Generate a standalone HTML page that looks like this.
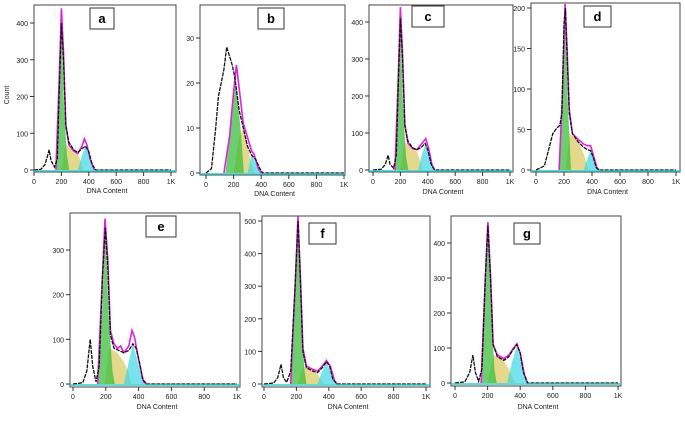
<!DOCTYPE html>
<html><head><meta charset="utf-8"><style>
body{margin:0;background:#fff;width:685px;height:419px;overflow:hidden}
svg text{font-family:"Liberation Sans",sans-serif}
</style></head><body>
<svg id="s" width="685" height="419" viewBox="0 0 685 419"></svg>
<script>
const panelLabels=["a","b","c","d","e","f","g"];
const yTicksA=[0,100,200,300,400];
const yTicksB=[0,10,20,30];
const yTicksC=[0,100,200,300,400];
const yTicksD=[0,50,100,150,200];
const yTicksE=[0,100,200,300];
const yTicksF=[0,100,200,300,400,500];
const yTicksG=[0,100,200,300,400];
const xTicks=[0,200,400,600,800,1000];
const xTickLabels=["0","200","400","600","800","1K"];
// histogram series [DNA, count]
const blackA=[[0,0],[50,2],[80,15],[100,40],[110,55],[125,25],[150,8],[170,30],[185,220],[200,400],[215,300],[232,120],[255,75],[290,55],[320,48],[350,58],[375,65],[400,50],[425,15],[450,0],[1000,0]];
const magA=[[160,0],[183,240],[200,440],[215,320],[232,125],[255,68],[290,52],[320,45],[350,65],[368,85],[385,70],[410,30],[440,0]];
const g1A=[[160,0],[182,170],[200,420],[218,180],[240,40],[258,0]];
const sA=[[200,0],[230,70],[280,55],[320,45],[345,20],[360,0]];
const g2A=[[320,0],[350,40],[375,65],[400,45],[430,10],[450,0]];
const blackB=[[0,0],[40,1],[70,10],[90,17],[110,20],[130,23],[150,28],[170,26],[190,24],[210,21],[240,14],[270,10],[300,6],[330,4],[360,3],[390,1],[410,0],[1000,0]];
const magB=[[130,0],[170,8],[200,18],[220,24],[240,19],[270,11],[300,8],[330,5],[350,4],[380,1],[400,0]];
const g1B=[[140,0],[180,10],[215,21],[250,10],[275,0]];
const sB=[[200,0],[240,8],[270,10],[300,6],[330,2],[350,0]];
const g2B=[[300,0],[330,4],[350,3],[380,1],[400,0]];
const blackC=[[0,0],[60,2],[90,15],[110,40],[125,15],[150,5],[170,40],[185,230],[200,410],[215,300],[232,120],[255,78],[290,60],[320,55],[350,60],[380,72],[400,55],[425,15],[450,0],[1000,0]];
const magC=[[160,0],[183,240],[200,440],[215,320],[232,125],[255,72],[290,58],[320,55],[350,68],[385,85],[405,60],[430,15],[450,0]];
const g1C=[[160,0],[182,170],[200,420],[218,180],[240,40],[258,0]];
const sC=[[200,0],[230,75],[280,60],[320,50],[345,25],[360,0]];
const g2C=[[330,0],[360,45],[385,72],[410,40],[440,5],[450,0]];
const blackD=[[0,0],[60,5],[90,25],[120,45],[150,52],[170,55],[185,70],[200,180],[210,200],[222,140],[238,70],[260,45],[300,35],[340,28],[370,25],[390,24],[410,15],[430,3],[450,0],[1000,0]];
const magD=[[165,0],[188,90],[208,205],[222,150],[238,75],[260,45],[300,38],[340,32],[370,30],[390,30],[410,18],[435,3],[450,0]];
const g1D=[[165,0],[188,80],[208,190],[228,80],[250,0]];
const sD=[[210,0],[240,45],[290,38],[330,25],[360,10],[375,0]];
const g2D=[[340,0],[370,15],[390,25],[410,15],[440,0]];
const blackE=[[0,0],[60,3],[85,30],[105,100],[120,40],[140,5],[160,40],[180,240],[197,350],[212,260],[228,110],[250,80],[280,75],[310,70],[340,75],[365,90],[385,80],[405,50],[425,10],[450,0],[1000,0]];
const magE=[[150,0],[178,230],[195,370],[212,280],[228,120],[250,90],[270,80],[290,85],[310,70],[340,85],[360,120],[375,105],[400,55],[430,5],[450,0]];
const g1E=[[150,0],[177,160],[197,355],[217,160],[240,30],[255,0]];
const sE=[[195,0],[220,80],[270,70],[310,50],[340,25],[355,0]];
const g2E=[[310,0],[340,50],[365,90],[395,50],[425,5],[440,0]];
const blackF=[[0,0],[60,3],[85,20],[105,60],[120,20],[140,5],[165,40],[192,300],[210,500],[225,320],[240,100],[262,50],[300,40],[330,35],[360,50],[385,68],[405,55],[425,15],[450,0],[1000,0]];
const magF=[[165,0],[192,300],[210,515],[225,330],[240,110],[262,55],[300,45],[330,40],[360,55],[385,72],[410,55],[435,10],[450,0]];
const g1F=[[165,0],[190,250],[210,500],[228,250],[248,50],[262,0]];
const sF=[[210,0],[240,55],[290,42],[330,30],[355,10],[365,0]];
const g2F=[[330,0],[360,40],[385,65],[410,40],[440,0]];
const blackG=[[0,0],[60,3],[90,30],[110,80],[125,30],[145,5],[165,40],[186,300],[202,450],[218,300],[234,110],[260,75],[300,65],[330,75],[355,95],[380,110],[400,85],[420,30],[445,0],[1000,0]];
const magG=[[160,0],[186,300],[202,460],[218,310],[234,110],[260,80],[300,70],[330,80],[360,100],[380,112],[400,85],[425,25],[445,0]];
const g1G=[[160,0],[185,250],[202,440],[220,220],[242,40],[255,0]];
const sG=[[200,0],[235,80],[290,70],[330,40],[360,10],[370,0]];
const g2G=[[320,0],[350,60],[380,105],[405,60],[435,5],[445,0]];

const panels=[
 {lab:0,L:34,R:176,T:5,B:172,x0:34,x1:171,y0:170,yt:23,ytv:400,ticks:yTicksA,lbx:90,lbw:24,lby:8,data:[blackA,magA,g1A,sA,g2A],count:true,xlab:193},
 {lab:1,L:200,R:345,T:5,B:175,x0:206,x1:344,y0:173,yt:38,ytv:30,ticks:yTicksB,lbx:258,lbw:26,lby:8,data:[blackB,magB,g1B,sB,g2B],xlab:196},
 {lab:2,L:369,R:513,T:5,B:172,x0:373,x1:510,y0:170,yt:22,ytv:400,ticks:yTicksC,lbx:412,lbw:32,lby:6,data:[blackC,magC,g1C,sC,g2C],xlab:194},
 {lab:3,L:531,R:680,T:3,B:172,x0:536,x1:676,y0:170,yt:8,ytv:200,ticks:yTicksD,lbx:584,lbw:27,lby:6,data:[blackD,magD,g1D,sD,g2D],xlab:194},
 {lab:4,L:70,R:240,T:213,B:387,x0:73,x1:237,y0:384,yt:250,ytv:300,ticks:yTicksE,lbx:146,lbw:30,lby:216,data:[blackE,magE,g1E,sE,g2E],xlab:409},
 {lab:5,L:262,R:430,T:216,B:387,x0:264,x1:426,y0:384,yt:221,ytv:500,ticks:yTicksF,lbx:309,lbw:27,lby:223,data:[blackF,magF,g1F,sF,g2F],xlab:409},
 {lab:6,L:451,R:621,T:216,B:386,x0:455,x1:618,y0:383,yt:243,ytv:400,ticks:yTicksG,lbx:514,lbw:26,lby:223,data:[blackG,magG,g1G,sG,g2G],xlab:409}
];
const s=document.getElementById('s');
const NS="http://www.w3.org/2000/svg";
function mk(t,a,p){const e=document.createElementNS(NS,t);for(const k in a)e.setAttribute(k,a[k]);(p||s).appendChild(e);return e;}
panels.forEach((P,i)=>{
 const g=mk('g',{});
 
 
 const sx=v=>P.x0+(P.x1-P.x0)*v/1000;
 const sy=v=>P.y0-(P.y0-P.yt)*v/P.ytv;
 const pts=a=>a.map(p=>sx(p[0]).toFixed(1)+','+sy(p[1]).toFixed(1)).join(' ');
 const fills=[null,null,'rgba(60,190,60,0.75)','rgba(215,200,90,0.7)','rgba(60,215,230,0.7)'];
 [3,4,2].forEach(k=>{const e=mk('polygon',{points:pts(P.data[k]),fill:fills[k],stroke:'none'},g);
  
  });
 const m=mk('polyline',{points:pts(P.data[1]),fill:'none',stroke:'#e020e0','stroke-width':1.6},g);
 
 
 const b=mk('polyline',{points:pts(P.data[0]),fill:'none',stroke:'#111','stroke-width':1.3,'stroke-dasharray':'4 1'},g);
 
 
 const fr=mk('rect',{x:P.L,y:P.T,width:P.R-P.L,height:P.B-P.T,fill:'none',stroke:'#444','stroke-width':1},g);
 
 
 mk('line',{x1:P.L,y1:P.y0+1,x2:P.R,y2:P.y0+1,stroke:'#3cc','stroke-width':1.5},g);
 P.ticks.forEach(v=>{mk('line',{x1:P.L-4,x2:P.L,y1:sy(v),y2:sy(v),stroke:'#333'},g);
  const t=mk('text',{x:P.L-6,y:sy(v)+3,'font-size':7,'text-anchor':'end',fill:'#222'},g);t.textContent=v;
  
  });
 xTicks.forEach((v,j)=>{mk('line',{x1:sx(v),x2:sx(v),y1:P.B,y2:P.B+4,stroke:'#333'},g);
  const t=mk('text',{x:sx(v),y:P.B+12,'font-size':7,'text-anchor':'middle',fill:'#222'},g);t.textContent=xTickLabels[j];
  
  });
 const xl=mk('text',{x:(P.L+P.R)/2+2,y:P.xlab,'font-size':7,'text-anchor':'middle',fill:'#222'},g);xl.textContent='DNA Content';
 
 
 const lr=mk('rect',{x:P.lbx,y:P.lby,width:P.lbw,height:21,fill:'#fff',stroke:'#333'},g);
 
 
 const lt=mk('text',{x:P.lbx+P.lbw/2,y:P.lby+15,'font-size':13,'font-weight':'bold','text-anchor':'middle','font-family':'Liberation Serif',fill:'#000'},g);lt.textContent=panelLabels[P.lab];
 
 
 if(P.count){const c=mk('text',{x:9,y:95,'font-size':7,'text-anchor':'middle',transform:'rotate(-90 9 95)',fill:'#222'},g);c.textContent='Count';
  
  }
});
</script>
</body></html>
